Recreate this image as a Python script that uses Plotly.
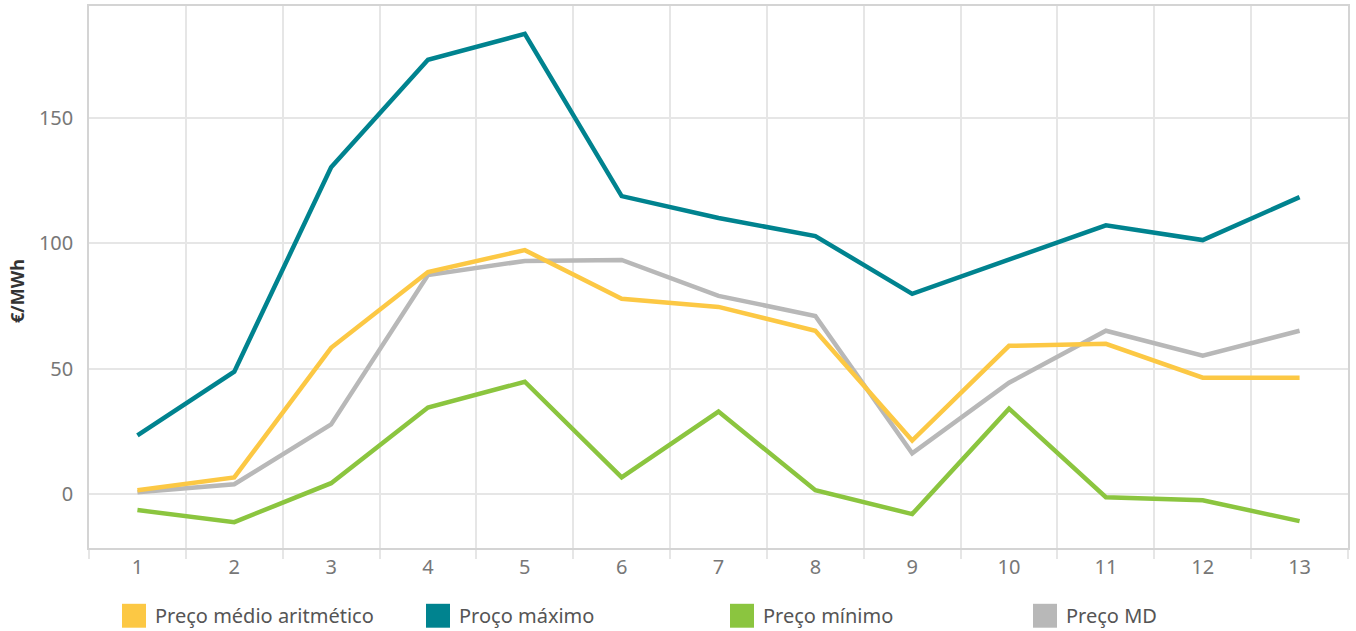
import plotly.graph_objects as go

periods = [str(i) for i in range(1, 14)]
preco_medio = [1.6, 6.7, 58.3, 88.5, 97.2, 77.8, 74.6, 65.1, 21.4, 59.1, 59.9, 46.4, 46.4]
preco_maximo = [23.4, 48.8, 130.2, 173.0, 183.3, 118.7, 110.0, 102.8, 79.8, 93.3, 107.1, 101.2, 118.3]
preco_minimo = [-6.3, -11.1, 4.4, 34.5, 44.8, 6.7, 32.9, 1.6, -7.9, 34.1, -1.2, -2.4, -10.7]
preco_md = [0.8, 4.0, 27.8, 87.3, 92.9, 93.3, 79.0, 71.0, 16.3, 44.4, 65.1, 55.2, 65.1]

y_ticks = [0, 50, 100, 150]
series_names = ["Preço médio aritmético", "Proço máximo", "Preço mínimo", "Preço MD"]
series_values = [preco_medio, preco_maximo, preco_minimo, preco_md]
series_colors = ["#FCC844", "#00838F", "#8BC53F", "#B8B8B8"]
draw_order = [3, 2, 0, 1]

W, H = 1356, 631
ML, MR, MT, MB = 89, 8, 4, 83
PW, PH = W - ML - MR, H - MT - MB
FONT = "Noto Sans"

fig = go.Figure()
for i in draw_order:
    fig.add_trace(go.Scatter(
        x=periods, y=series_values[i], mode="lines", name=series_names[i],
        line=dict(color=series_colors[i], width=4.5), showlegend=False,
    ))

# zero reference line: cover solid gridline, then dotted
fig.add_hline(y=0, line=dict(color="white", width=2), layer="below")
fig.add_hline(y=0, line=dict(color="#BBBBBB", width=1.2, dash="dot"), layer="below")

# custom legend (squares + labels)
leg_x_px = [122, 426, 730, 1033]
sq = 24
sq_top_px = 604
for name, col, lx in zip(series_names, series_colors, leg_x_px):
    x0 = (lx - ML) / PW
    x1 = (lx + sq - ML) / PW
    y0 = (H - MB - (sq_top_px + sq)) / PH
    y1 = (H - MB - sq_top_px) / PH
    fig.add_shape(type="rect", xref="paper", yref="paper", x0=x0, x1=x1, y0=y0, y1=y1,
                  fillcolor=col, line=dict(width=0))
    fig.add_annotation(xref="paper", yref="paper", x=(lx + sq + 7 - ML) / PW, y=(y0 + y1) / 2,
                       text=name, showarrow=False, xanchor="left", yanchor="middle",
                       font=dict(family=FONT, size=20, color="#555555"))

# y-axis title
fig.add_annotation(xref="paper", yref="paper", x=(17 - ML) / PW, y=(H - MB - 290) / PH,
                   text="<b>€/MWh</b>", showarrow=False, textangle=-90,
                   xanchor="center", yanchor="middle",
                   font=dict(family=FONT, size=18, color="#333333"))

fig.update_layout(
    width=W, height=H,
    margin=dict(l=ML, r=MR, t=MT, b=MB),
    paper_bgcolor="white", plot_bgcolor="white",
    showlegend=False,
    font=dict(family=FONT, color="#777777"),
    xaxis=dict(
        type="category", tickson="boundaries", ticks="outside", ticklen=9,
        tickcolor="#E6E6E6", tickwidth=1.5,
        showgrid=True, gridcolor="#E6E6E6", gridwidth=1.5,
        showline=True, linecolor="#D4D4D4", linewidth=1.5, mirror=True,
        tickfont=dict(size=20, color="#777777"),
        range=[-0.5, 12.5], zeroline=False,
    ),
    yaxis=dict(
        range=[-21.4, 194.4], tickvals=y_ticks,
        showgrid=True, gridcolor="#E6E6E6", gridwidth=1.5,
        showline=True, linecolor="#D4D4D4", linewidth=1.5, mirror=True,
        zeroline=False, ticks="", ticklabelstandoff=10,
        tickfont=dict(size=20, color="#777777"),
    ),
)

fig.write_html("out.html", config={"displayModeBar": False},
               post_script="document.body.style.margin='0';document.body.style.overflow='hidden';")
